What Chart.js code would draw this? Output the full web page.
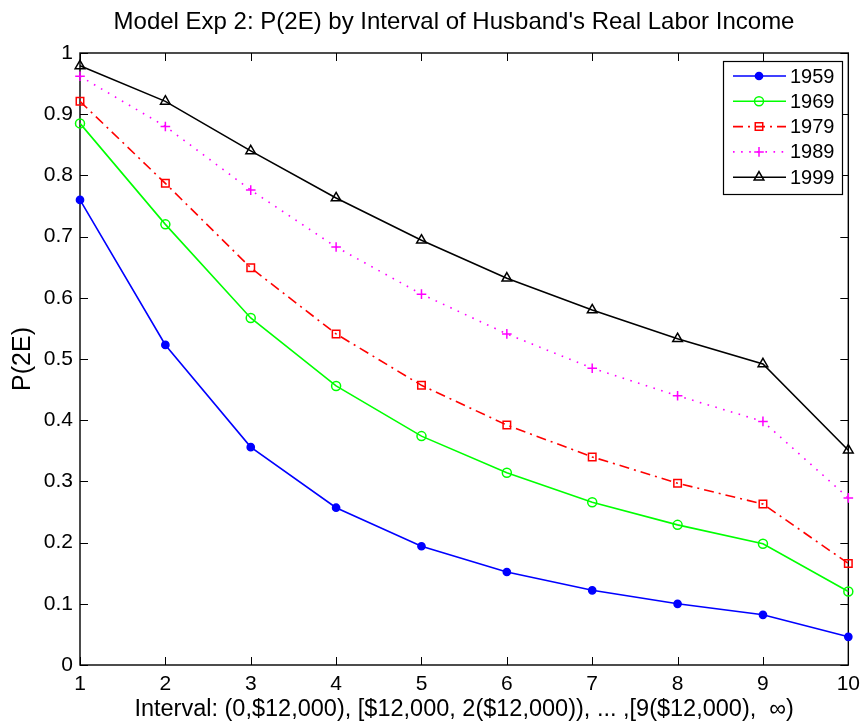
<!DOCTYPE html>
<html>
<head>
<meta charset="utf-8">
<script src="https://cdn.jsdelivr.net/npm/chart.js@4.4.0/dist/chart.umd.min.js"></script>
<style>
  body { margin: 0; background: #fff; }
  canvas { display: block; }
</style>
</head>
<body>
<canvas id="grafico" width="867" height="725"></canvas>
<script>
// intervalli di reddito del marito (1..10)
var intervalli = [1, 2, 3, 4, 5, 6, 7, 8, 9, 10];
var etichette_y = ['0', '0.1', '0.2', '0.3', '0.4', '0.5', '0.6', '0.7', '0.8', '0.9', '1'];

var anni = ['1959', '1969', '1979', '1989', '1999'];
var p_1959 = [0.760, 0.523, 0.356, 0.257, 0.194, 0.152, 0.122, 0.100, 0.082, 0.046];
var p_1969 = [0.885, 0.720, 0.567, 0.456, 0.374, 0.314, 0.266, 0.229, 0.198, 0.120];
var p_1979 = [0.921, 0.787, 0.649, 0.541, 0.457, 0.392, 0.340, 0.297, 0.263, 0.166];
var p_1989 = [0.962, 0.880, 0.776, 0.683, 0.606, 0.541, 0.485, 0.440, 0.398, 0.273];
var p_1999 = [0.979, 0.921, 0.840, 0.763, 0.694, 0.632, 0.580, 0.533, 0.492, 0.351];

var titolo = "Model Exp 2: P(2E) by Interval of Husband's Real Labor Income";
var titolo_x = 'Interval: (0,$12,000), [$12,000, 2($12,000)), ... ,[9($12,000),  \u221e)';
var titolo_y = 'P(2E)';

var FONT = '"Liberation Sans", Arial, Helvetica, sans-serif';

function punti(valori) {
    var out = [];
    for (var i = 0; i < intervalli.length; i++) {
        out.push({ x: intervalli[i], y: valori[i] });
    }
    return out;
}

function serie(label, valori, colore, stile, raggio, pieno, tratteggio) {
    return {
        label: label,
        data: punti(valori),
        borderColor: colore,
        backgroundColor: pieno ? colore : 'rgba(0,0,0,0)',
        borderWidth: 1.6,
        borderDash: tratteggio,
        pointStyle: stile,
        pointRadius: raggio,
        pointHoverRadius: raggio,
        pointBorderColor: colore,
        pointBackgroundColor: pieno ? colore : 'rgba(0,0,0,0)',
        pointBorderWidth: 1.5,
        tension: 0,
        clip: false
    };
}

// riquadro + tacche rivolte verso l'interno su tutti e quattro i lati
var riquadro = {
    id: 'riquadro',
    beforeDatasetsDraw: function (chart) {
        var ctx = chart.ctx;
        var a = chart.chartArea;
        var sx = chart.scales.x, sy = chart.scales.y;
        var lung = 8;
        ctx.save();
        ctx.strokeStyle = '#000';
        ctx.lineWidth = 1;
        ctx.beginPath();
        sx.ticks.forEach(function (t) {
            var px = Math.round(sx.getPixelForValue(t.value)) + 0.5;
            ctx.moveTo(px, a.bottom); ctx.lineTo(px, a.bottom - lung);
            ctx.moveTo(px, a.top); ctx.lineTo(px, a.top + lung);
        });
        sy.ticks.forEach(function (t) {
            var py = Math.round(sy.getPixelForValue(t.value)) + 0.5;
            ctx.moveTo(a.left, py); ctx.lineTo(a.left + lung, py);
            ctx.moveTo(a.right, py); ctx.lineTo(a.right - lung, py);
        });
        ctx.stroke();
        ctx.lineWidth = 1.4;
        ctx.strokeRect(a.left, a.top, a.right - a.left, a.bottom - a.top);
        ctx.restore();
    }
};

// titolo in alto
var intestazione = {
    id: 'intestazione',
    afterDraw: function (chart) {
        var ctx = chart.ctx;
        ctx.save();
        ctx.fillStyle = '#000';
        ctx.font = '24px ' + FONT;
        ctx.textAlign = 'center';
        ctx.textBaseline = 'middle';
        ctx.fillText(titolo, 454, 22);
        ctx.restore();
    }
};

// legenda con bordo, in alto a destra
var legenda = {
    id: 'legenda',
    afterDraw: function (chart) {
        var ctx = chart.ctx;
        var x0 = 723, y0 = 61, w = 119, h = 133;
        ctx.save();
        ctx.fillStyle = '#fff';
        ctx.fillRect(x0, y0, w, h);
        ctx.strokeStyle = '#000';
        ctx.lineWidth = 1.2;
        ctx.strokeRect(x0 + 0.5, y0 + 0.5, w, h);
        chart.data.datasets.forEach(function (ds, i) {
            var y = 76 + i * 25.3;
            ctx.save();
            ctx.strokeStyle = ds.borderColor;
            ctx.lineWidth = ds.borderWidth;
            ctx.setLineDash(ds.borderDash || []);
            ctx.beginPath();
            ctx.moveTo(733, y); ctx.lineTo(786, y);
            ctx.stroke();
            ctx.setLineDash([]);
            ctx.fillStyle = ds.pointBackgroundColor;
            ctx.lineWidth = ds.pointBorderWidth;
            Chart.helpers.drawPoint(ctx, {
                pointStyle: ds.pointStyle,
                radius: ds.pointRadius,
                borderWidth: ds.pointBorderWidth,
                rotation: 0
            }, 759, y);
            ctx.restore();
            ctx.fillStyle = '#000';
            ctx.font = '20px ' + FONT;
            ctx.textAlign = 'left';
            ctx.textBaseline = 'middle';
            ctx.fillText(ds.label, 790, y + 1);
        });
        ctx.restore();
    }
};

var ctx = document.getElementById('grafico').getContext('2d');
var grafico = new Chart(ctx, {
    type: 'line',
    data: {
        datasets: [
            serie(anni[0], p_1959, '#0000ff', 'circle', 3.6, true, []),
            serie(anni[1], p_1969, '#00ff00', 'circle', 4.5, false, []),
            serie(anni[2], p_1979, '#ff0000', 'rect', 5.3, false, [10, 5, 2, 5]),
            serie(anni[3], p_1989, '#ff00ff', 'cross', 4.8, false, [1.6, 6.5]),
            serie(anni[4], p_1999, '#000000', 'triangle', 5.6, false, [])
        ]
    },
    options: {
        responsive: false,
        animation: false,
        devicePixelRatio: 1,
        layout: { padding: { top: 53, right: 16, left: 0, bottom: 0 } },
        plugins: {
            legend: { display: false },
            title: { display: false },
            tooltip: { enabled: false }
        },
        scales: {
            x: {
                type: 'linear',
                min: 1,
                max: 10,
                afterFit: function (s) { s.height = 60; },
                afterBuildTicks: function (s) {
                    s.ticks = intervalli.map(function (v) { return { value: v }; });
                },
                grid: { display: false, drawTicks: false },
                border: { display: false },
                ticks: {
                    padding: 7,
                    color: '#000',
                    font: { family: FONT, size: 21 },
                    maxRotation: 0,
                    autoSkip: false,
                    callback: function (v) { return String(v); }
                },
                title: {
                    display: true,
                    text: titolo_x,
                    color: '#000',
                    font: { family: FONT, size: 23.5 },
                    padding: { top: 0, bottom: 1 }
                }
            },
            y: {
                type: 'linear',
                min: 0,
                max: 1,
                afterFit: function (s) { s.width = 80; },
                afterBuildTicks: function (s) {
                    s.ticks = etichette_y.map(function (t, i) { return { value: i / 10 }; });
                },
                grid: { display: false, drawTicks: false },
                border: { display: false },
                ticks: {
                    padding: 7,
                    color: '#000',
                    font: { family: FONT, size: 21 },
                    autoSkip: false,
                    callback: function (v, i) { return etichette_y[i]; }
                },
                title: {
                    display: true,
                    text: titolo_y,
                    color: '#000',
                    font: { family: FONT, size: 25 },
                    padding: { top: 8, bottom: 0 }
                }
            }
        }
    },
    plugins: [riquadro, intestazione, legenda]
});
</script>
</body>
</html>
